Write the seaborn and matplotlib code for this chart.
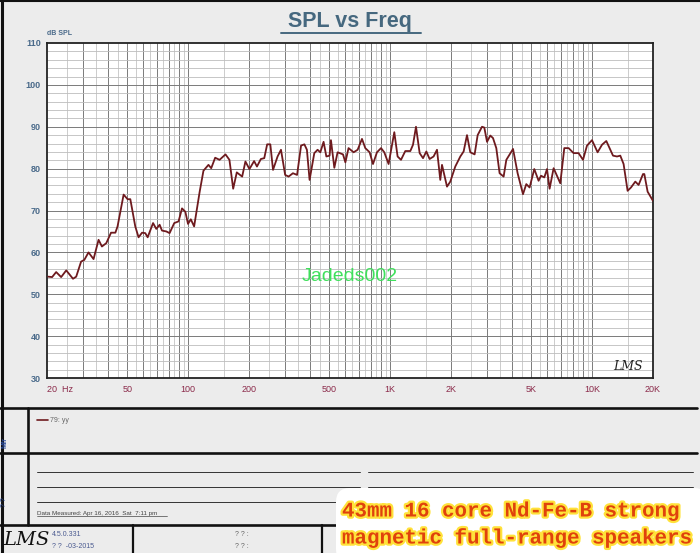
import numpy as np
import pandas as pd
import matplotlib
matplotlib.use("Agg")
import matplotlib.pyplot as plt
import matplotlib.patheffects as pe
from matplotlib.patches import FancyBboxPatch
from matplotlib.ticker import FixedLocator, NullLocator
import seaborn as sns

sns.set_style("white")
plt.rcParams["font.family"] = ["Liberation Sans", "DejaVu Sans"]

# ---- data ----
freq = [20.3, 21.2, 22.2, 23.5, 24.9, 26.9, 27.9, 29.5, 30.6, 32.1, 34.0, 36.0, 37.4, 39.3,
        41.5, 43.6, 44.7, 47.9, 50.1, 51.7, 54.7, 56.8, 59.1, 61.3, 63.0, 67.0, 69.5, 72.2,
        74.2, 77.9, 80.9, 85.3, 89.6, 93.2, 96.8, 99.8, 103, 107, 114,
        119, 126, 130, 136, 143, 153, 160, 167, 174, 185, 192, 201, 212, 219, 229, 238,
        246, 255, 263, 277, 288, 302, 314, 330, 346, 362, 376, 387, 399, 421, 437, 451,
        468, 483, 501, 509, 529, 549, 584, 600, 622,
        659, 690, 725, 753, 791, 822, 860, 901, 935, 982, 1048, 1088, 1131, 1188, 1258,
        1297, 1342, 1399, 1454, 1510, 1567, 1640, 1705, 1770, 1805, 1911, 1984, 2100,
        2224, 2310, 2400, 2492, 2618, 2710, 2848, 2924, 3016, 3130, 3228, 3352, 3480,
        3644, 3758, 3902, 4056, 4274, 4544, 4718, 4900, 5168, 5428, 5580, 5794, 5974,
        6154, 6442, 6696, 6952, 7276, 7642, 8090, 8564, 9006, 9426, 9978, 10636, 11184,
        11746, 12196, 12678, 13270, 13776, 14304, 14972, 15564, 16346, 16972, 17846,
        18116, 18808, 20000]
spl = [54.2, 54.1, 55.3, 54.1, 55.7, 53.7, 54.2, 57.8, 58.2, 60.0, 58.4, 63.0, 61.4, 62.2,
       64.7, 64.7, 66.2, 73.8, 72.7, 72.7, 66.2, 63.6, 64.7, 64.6, 63.6, 67.0, 65.6, 66.6,
       65.2, 65.0, 64.6, 67.0, 67.4, 70.5, 69.7, 66.8, 67.9, 66.2, 74.5,
       79.5, 80.9, 80.1, 82.6, 82.1, 83.4, 82.1, 75.2, 79.1, 78.1, 81.7, 79.9, 81.8, 80.5,
       82.3, 82.5, 85.8, 85.8, 79.7, 82.9, 84.5, 78.5, 78.1, 78.9, 78.5, 85.5, 85.8, 84.5,
       77.3, 83.7, 84.5, 83.9, 86.4, 82.9, 83.1, 86.8, 80.2, 83.9, 83.4, 81.5, 84.9,
       83.9, 84.5, 87.1, 84.9, 83.9, 81.1, 83.9, 84.9, 83.9, 81.1, 88.7, 82.9, 82.1, 84.2,
       84.2, 85.7, 90.0, 83.7, 82.5, 84.1, 82.3, 82.9, 84.5, 77.3, 80.9, 75.7, 76.9, 80.5,
       82.9, 84.1, 88.0, 83.9, 83.4, 88.0, 90.0, 89.8, 86.4, 87.9, 87.3, 84.9, 78.9,
       78.1, 82.1, 83.4, 84.7, 78.9, 73.9, 76.3, 75.5, 79.9, 77.1, 78.3, 77.9, 79.9,
       75.2, 80.1, 78.3, 76.5, 84.9, 84.9, 83.7, 83.7, 82.1, 85.5, 86.8, 83.9, 85.7,
       86.6, 84.9, 83.1, 82.9, 83.1, 81.1, 74.7, 75.5, 76.9, 76.1, 78.7,
       78.7, 74.5, 72.3]

xtick_vals = [20, 50, 100, 200, 500, 1000, 2000, 5000, 10000, 20000]
xtick_labels = ["20  Hz", "50", "100", "200", "500", "1K", "2K", "5K", "10K", "20K"]
ytick_vals = [30, 40, 50, 60, 70, 80, 90, 100, 110]

CURVE = "#6E1A1E"
BG = "#ECECEC"
YCOL = "#4A6A8A"
XCOL = "#8B2A4A"

df = pd.DataFrame({"freq": freq, "spl": spl})

W, H = 700, 553
fig = plt.figure(figsize=(W / 100, H / 100), dpi=100, facecolor=BG)

# overlay in pixel coordinates for the LMS frame decorations
bg = fig.add_axes([0, 0, 1, 1], zorder=0)
bg.set_xlim(0, W)
bg.set_ylim(H, 0)
bg.axis("off")

# ---- main plot ----
ax = fig.add_axes([47 / W, 1 - 378 / H, 606 / W, 335 / H], zorder=2)
ax.set_facecolor("white")
ax.set_xscale("log")
ax.set_xlim(20, 20000)
ax.set_ylim(30, 110)

# LMS-style grid
for dec in [10, 100, 1000, 10000]:
    for m in np.arange(1.5, 10, 1.0):
        f = dec * m
        if 20 < f < 20000:
            ax.axvline(f, color="#C4C4C4", lw=0.6, zorder=0)
    for m in range(1, 10):
        f = dec * m
        if 20 < f < 20000:
            ax.axvline(f, color="#7A7A7A", lw=0.7, zorder=0)
for v in range(32, 110, 2):
    ax.axhline(v, color="#BDBDBD" if v % 10 else "#7A7A7A",
               lw=0.6 if v % 10 else 0.7, zorder=0)

sns.lineplot(data=df, x="freq", y="spl", ax=ax, color=CURVE, lw=1.3,
             estimator=None, sort=False, zorder=3)

ax.set_xlabel("")
ax.set_ylabel("")
ax.xaxis.set_major_locator(FixedLocator(xtick_vals))
ax.xaxis.set_minor_locator(NullLocator())
ax.set_xticklabels(xtick_labels)
ax.set_yticks(ytick_vals)
ax.tick_params(axis="x", colors="#333333", labelcolor=XCOL, labelsize=6.5, length=0, pad=5)
ax.tick_params(axis="y", colors="#333333", labelcolor=YCOL, labelsize=6.5, length=3,
               width=0.8, pad=1.5)
for lab in ax.get_yticklabels():
    lab.set_fontweight("bold")
ax.get_xticklabels()[0].set_ha("left")
for sp in ax.spines.values():
    sp.set_visible(True)
    sp.set_color("#222222")
    sp.set_linewidth(1.3)

ax.text(0.5, 0.304, "Jadeds002", transform=ax.transAxes, color="#3FE05C",
        fontsize=14, ha="center", va="center", zorder=4)
ax.text(0.958, 0.035, "LMS", transform=ax.transAxes, color="#222222", fontsize=9,
        style="italic", family="DejaVu Serif", ha="center", va="center", zorder=4)

# ---- title and axis caption ----
bg.text(350, 22, "SPL vs Freq", color="#46687F", fontsize=15.5, fontweight="bold",
        ha="center", va="center")
bg.plot([281, 421], [33, 33], color="#46687F", lw=1.4)
bg.text(47, 37, "dB SPL", color=YCOL, fontsize=5, fontweight="bold", ha="left",
        va="bottom")

# ---- outer frame ----
bg.plot([0, W], [1, 1], color="#111111", lw=1.5)
bg.plot([1.5, 1.5], [0, H], color="#111111", lw=2.2)

# ---- lower info panel ----
for yy in [407.5, 453, 525]:
    bg.plot([0, W - 3], [yy, yy], color="#111111", lw=1.9)
bg.plot([28, 28], [407.5, 525], color="#111111", lw=1.9)
bg.plot([133, 133], [525, H], color="#111111", lw=1.6)
bg.plot([322, 322], [525, H], color="#111111", lw=1.6)

bg.plot([37, 48], [420, 420], color=CURVE, lw=1.2)
bg.text(50, 420, "79: yy", color="#666666", fontsize=5, ha="left", va="center")

for yy in [472, 487, 502]:
    bg.plot([37, 360], [yy, yy], color="#333333", lw=0.7)
    bg.plot([368, 693], [yy, yy], color="#333333", lw=0.7)
bg.text(37, 513, "Data Measured: Apr 16, 2016  Sat  7:11 pm", color="#444444",
        fontsize=4.5, ha="left", va="center")
bg.plot([37, 167], [516, 516], color="#444444", lw=0.5)

bg.text(5, 443, "Mfr", color="#2A4A9A", fontsize=5, rotation=90, ha="center",
        va="center", fontweight="bold")
bg.text(5, 502, "? ?", color="#2A4A9A", fontsize=5, rotation=90, ha="center",
        va="center")

bg.text(26, 540, "LMS", color="#111111", fontsize=14, style="italic",
        family="DejaVu Serif", ha="center", va="center")
bg.text(52, 535, "4.5.0.331", color="#4A5A90", fontsize=5, ha="left", va="center")
bg.text(52, 547, "? ?  -03-2015", color="#4A5A90", fontsize=5, ha="left", va="center")
bg.text(235, 535, "? ? :", color="#666666", fontsize=5, ha="left", va="center")
bg.text(235, 547, "? ? :", color="#666666", fontsize=5, ha="left", va="center")

# ---- caption box bottom right ----
box = FancyBboxPatch((336, 488), 372, 75, boxstyle="round,pad=0,rounding_size=14",
                     facecolor="white", edgecolor="none", zorder=5)
bg.add_patch(box)
glow = [pe.withStroke(linewidth=3.2, foreground="#FFE23A")]
for yy, line in [(511, "43mm 16 core Nd-Fe-B strong"),
                 (538, "magnetic full-range speakers")]:
    bg.text(342, yy, line, color="#E0420C", fontsize=15, fontweight="bold",
            family="Liberation Mono", ha="left", va="center", zorder=6,
            path_effects=glow)

fig.savefig("out.png", dpi=100, facecolor=BG)
plt.close(fig)
